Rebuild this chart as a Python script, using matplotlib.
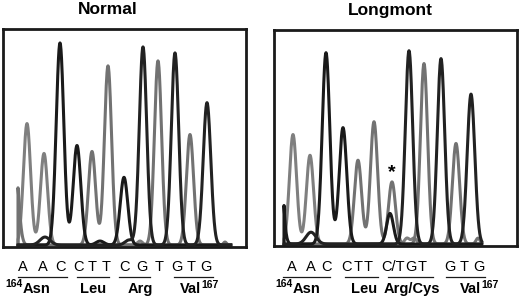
import numpy as np
import matplotlib
matplotlib.use("Agg")
import matplotlib.pyplot as plt
from matplotlib.transforms import blended_transform_factory

plt.rcParams['font.family'] = ['Liberation Sans', 'DejaVu Sans']

# ---- Normal trace: peaks per base (scan position, height, width) ----
normal_A_pos = [24, 41, 137]
normal_A_h = [122, 92, 4]
normal_A_w = [3.6, 3.6, 2.5]
normal_C_pos = [57, 74, 121, 97]
normal_C_h = [203, 100, 68, 4]
normal_C_w = [3.8, 3.8, 3.8, 4.0]
normal_G_pos = [42, 140, 172, 204, 126]
normal_G_h = [8, 199, 193, 143, 5]
normal_G_w = [5.0, 3.7, 3.7, 3.8, 4.0]
normal_T_pos = [12, 89, 105, 155, 187, 222]
normal_T_h = [83, 94, 180, 185, 111, 3]
normal_T_w = [3.5, 3.6, 3.6, 3.6, 3.6, 1.5]
normal_range = (15, 228)

# ---- Longmont trace ----
long_A_pos = [19, 36, 133, 140]
long_A_h = [111, 90, 6, 6]
long_A_w = [3.6, 3.6, 2.5, 2.5]
long_C_pos = [4, 52, 69, 116]
long_C_h = [170, 194, 118, 31]
long_C_w = [3.5, 3.8, 3.8, 3.4]
long_G_pos = [37, 135, 167, 197]
long_G_h = [12, 196, 188, 152]
long_G_w = [5.0, 3.7, 3.7, 3.8]
long_T_pos = [84, 100, 118, 150, 182, 204]
long_T_h = [85, 124, 63, 183, 102, 6]
long_T_w = [3.6, 3.6, 3.5, 3.6, 3.6, 2.0]
long_range = (10, 208)

# ---- labels ----
normal_bases = ['A', 'A', 'C', 'C', 'T', 'T', 'C', 'G', 'T', 'G', 'T', 'G']
normal_base_x = [20, 40, 57, 76, 89, 103, 122, 139, 156, 174, 188, 203]
long_bases = ['A', 'A', 'C', 'C', 'T', 'T', 'C/T', 'G', 'T', 'G', 'T', 'G']
long_base_x = [18, 37, 53, 73, 84, 94, 119, 137, 148, 176, 190, 205]

normal_codons = ['Asn', 'Leu', 'Arg', 'Val']
normal_codon_span = [(15, 64), (74, 106), (116, 147), (171, 210)]
normal_codon_x = [20, 90, 137, 177]
long_codons = ['Asn', 'Leu', 'Arg/Cys', 'Val']
long_codon_span = [(9, 56), (71, 104), (114, 159), (172, 211)]
long_codon_x = [19, 90, 138, 186]
first_residue, last_residue = '164', '167'

base_colors = {'A': '#7f7f7f', 'T': '#727272', 'C': '#1a1a1a', 'G': '#222222'}

W, H = 520, 300
fig = plt.figure(figsize=(W / 100, H / 100), dpi=100)


def trace(pos, h, w, x):
    y = np.zeros_like(x)
    for p, a, s in zip(pos, h, w):
        y += a * np.exp(-(x - p) ** 2 / (2 * s ** 2))
    return y


def panel(rect, title, title_x, peaks, xr, bases, base_x, codons, spans,
          codon_x, star=None):
    ax = fig.add_axes(rect)
    x = np.arange(xr[0], xr[1], 0.25)
    for base in ['A', 'T', 'C', 'G']:
        pos, h, w = peaks[base]
        y = trace(pos, h, w, x)
        xx = np.concatenate([[x[0]], x])
        yy = np.concatenate([[0], y])
        ax.plot(xx, yy, color=base_colors[base], lw=2.2, solid_joinstyle='round')
    ax.set_xlim(0, 243)
    ax.set_ylim(-2, 217)
    ax.set_xticks([])
    ax.set_yticks([])
    for s in ax.spines.values():
        s.set_linewidth(2.0)
        s.set_color('#1a1a1a')
    tr = blended_transform_factory(ax.transData, fig.transFigure)
    ax.text(title_x, 1 - 10 / H, title, transform=tr, ha='center', va='center',
            fontsize=12.5, fontweight='bold')
    for b, bx in zip(bases, base_x):
        ax.text(bx, 1 - 271 / H, b, transform=tr, ha='center', va='baseline',
                fontsize=10.5, clip_on=False)
    for (a, b) in spans:
        ax.plot([a, b], [1 - 277 / H] * 2, transform=tr, color='#1a1a1a',
                lw=0.9, clip_on=False)
    yb = 1 - 293 / H
    ysup = 1 - 287 / H
    for i, (lab, cx) in enumerate(zip(codons, codon_x)):
        if i == 0:
            ax.text(cx, yb, lab, transform=tr, ha='left', va='baseline',
                    fontsize=10.5, fontweight='bold')
            ax.text(cx - 0.5, ysup, first_residue, transform=tr, ha='right',
                    va='baseline', fontsize=7.5, fontweight='bold')
        elif i == len(codons) - 1:
            t = ax.text(cx, yb, lab, transform=tr, ha='left', va='baseline',
                        fontsize=10.5, fontweight='bold')
            ax.annotate(last_residue, xy=(1, 0), xycoords=t,
                        xytext=(0.5, 6), textcoords='offset points',
                        ha='left', va='baseline', fontsize=7.5,
                        fontweight='bold')
        else:
            ax.text(cx, yb, lab, transform=tr, ha='center', va='baseline',
                    fontsize=10.5, fontweight='bold')
    if star is not None:
        ax.text(star[0], star[1], '*', ha='center', va='center', fontsize=14,
                fontweight='bold')
    return ax


normal_peaks = {'A': (normal_A_pos, normal_A_h, normal_A_w),
                'C': (normal_C_pos, normal_C_h, normal_C_w),
                'G': (normal_G_pos, normal_G_h, normal_G_w),
                'T': (normal_T_pos, normal_T_h, normal_T_w)}
long_peaks = {'A': (long_A_pos, long_A_h, long_A_w),
              'C': (long_C_pos, long_C_h, long_C_w),
              'G': (long_G_pos, long_G_h, long_G_w),
              'T': (long_T_pos, long_T_h, long_T_w)}

panel([3 / W, 1 - 247 / H, 243 / W, 218 / H], 'Normal', 105, normal_peaks,
      normal_range, normal_bases, normal_base_x, normal_codons,
      normal_codon_span, normal_codon_x)
panel([274 / W, 1 - 246 / H, 243 / W, 216 / H], 'Longmont', 116, long_peaks,
      long_range, long_bases, long_base_x, long_codons,
      long_codon_span, long_codon_x, star=(118, 72))

fig.savefig('out.png', dpi=100)
